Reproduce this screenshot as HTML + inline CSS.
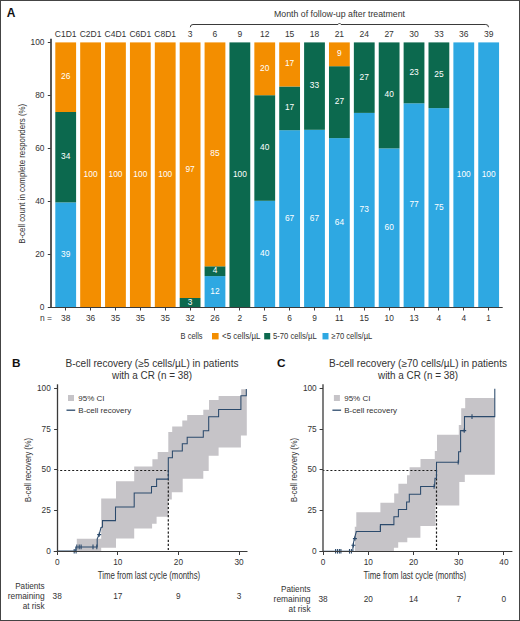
<!DOCTYPE html>
<html><head><meta charset="utf-8"><style>html,body{margin:0;padding:0;background:#fff;width:520px;height:621px;overflow:hidden}</style></head>
<body><svg width="520" height="621" viewBox="0 0 520 621" style="display:block;font-family:'Liberation Sans', sans-serif"><rect x="0" y="0" width="520" height="621" fill="#fff"/><rect x="55.30" y="202.40" width="20.8" height="104.90" fill="#2EA8E2"/><rect x="55.30" y="112.00" width="20.8" height="90.40" fill="#0C694E"/><rect x="55.30" y="42.40" width="20.8" height="69.60" fill="#F38E00"/><text transform="translate(65.70 256.85) scale(0.95 1)" x="0" y="0" font-size="8.8" text-anchor="middle" fill="#fff" font-weight="normal" >39</text><text transform="translate(65.70 159.20) scale(0.95 1)" x="0" y="0" font-size="8.8" text-anchor="middle" fill="#fff" font-weight="normal" >34</text><text transform="translate(65.70 79.20) scale(0.95 1)" x="0" y="0" font-size="8.8" text-anchor="middle" fill="#fff" font-weight="normal" >26</text><text x="65.70" y="37.4" font-size="8.5" text-anchor="middle" fill="#333333" font-weight="normal" >C1D1</text><text transform="translate(65.70 321.2) scale(0.9 1)" x="0" y="0" font-size="9.3" text-anchor="middle" fill="#333333" font-weight="normal" >38</text><line x1="65.5" y1="307.5" x2="65.5" y2="310.5" stroke="#3a3a3a" stroke-width="1"/><rect x="80.18" y="42.40" width="20.8" height="264.90" fill="#F38E00"/><text transform="translate(90.58 176.85) scale(0.95 1)" x="0" y="0" font-size="8.8" text-anchor="middle" fill="#fff" font-weight="normal" >100</text><text x="90.58" y="37.4" font-size="8.5" text-anchor="middle" fill="#333333" font-weight="normal" >C2D1</text><text transform="translate(90.58 321.2) scale(0.9 1)" x="0" y="0" font-size="9.3" text-anchor="middle" fill="#333333" font-weight="normal" >36</text><line x1="90.5" y1="307.5" x2="90.5" y2="310.5" stroke="#3a3a3a" stroke-width="1"/><rect x="105.06" y="42.40" width="20.8" height="264.90" fill="#F38E00"/><text transform="translate(115.46 176.85) scale(0.95 1)" x="0" y="0" font-size="8.8" text-anchor="middle" fill="#fff" font-weight="normal" >100</text><text x="115.46" y="37.4" font-size="8.5" text-anchor="middle" fill="#333333" font-weight="normal" >C4D1</text><text transform="translate(115.46 321.2) scale(0.9 1)" x="0" y="0" font-size="9.3" text-anchor="middle" fill="#333333" font-weight="normal" >35</text><line x1="115.5" y1="307.5" x2="115.5" y2="310.5" stroke="#3a3a3a" stroke-width="1"/><rect x="129.94" y="42.40" width="20.8" height="264.90" fill="#F38E00"/><text transform="translate(140.34 176.85) scale(0.95 1)" x="0" y="0" font-size="8.8" text-anchor="middle" fill="#fff" font-weight="normal" >100</text><text x="140.34" y="37.4" font-size="8.5" text-anchor="middle" fill="#333333" font-weight="normal" >C6D1</text><text transform="translate(140.34 321.2) scale(0.9 1)" x="0" y="0" font-size="9.3" text-anchor="middle" fill="#333333" font-weight="normal" >35</text><line x1="140.5" y1="307.5" x2="140.5" y2="310.5" stroke="#3a3a3a" stroke-width="1"/><rect x="154.82" y="42.40" width="20.8" height="264.90" fill="#F38E00"/><text transform="translate(165.22 176.85) scale(0.95 1)" x="0" y="0" font-size="8.8" text-anchor="middle" fill="#fff" font-weight="normal" >100</text><text x="165.22" y="37.4" font-size="8.5" text-anchor="middle" fill="#333333" font-weight="normal" >C8D1</text><text transform="translate(165.22 321.2) scale(0.9 1)" x="0" y="0" font-size="9.3" text-anchor="middle" fill="#333333" font-weight="normal" >35</text><line x1="165.5" y1="307.5" x2="165.5" y2="310.5" stroke="#3a3a3a" stroke-width="1"/><rect x="179.70" y="298.00" width="20.8" height="9.30" fill="#0C694E"/><rect x="179.70" y="42.40" width="20.8" height="255.60" fill="#F38E00"/><text transform="translate(190.10 304.65) scale(0.95 1)" x="0" y="0" font-size="8.8" text-anchor="middle" fill="#fff" font-weight="normal" >3</text><text transform="translate(190.10 172.20) scale(0.95 1)" x="0" y="0" font-size="8.8" text-anchor="middle" fill="#fff" font-weight="normal" >97</text><text x="190.10" y="37.4" font-size="8.5" text-anchor="middle" fill="#333333" font-weight="normal" >3</text><text transform="translate(190.10 321.2) scale(0.9 1)" x="0" y="0" font-size="9.3" text-anchor="middle" fill="#333333" font-weight="normal" >32</text><line x1="190.5" y1="307.5" x2="190.5" y2="310.5" stroke="#3a3a3a" stroke-width="1"/><rect x="204.58" y="276.10" width="20.8" height="31.20" fill="#2EA8E2"/><rect x="204.58" y="266.30" width="20.8" height="9.80" fill="#0C694E"/><rect x="204.58" y="42.40" width="20.8" height="223.90" fill="#F38E00"/><text transform="translate(214.98 293.70) scale(0.95 1)" x="0" y="0" font-size="8.8" text-anchor="middle" fill="#fff" font-weight="normal" >12</text><text transform="translate(214.98 273.20) scale(0.95 1)" x="0" y="0" font-size="8.8" text-anchor="middle" fill="#fff" font-weight="normal" >4</text><text transform="translate(214.98 156.35) scale(0.95 1)" x="0" y="0" font-size="8.8" text-anchor="middle" fill="#fff" font-weight="normal" >85</text><text x="214.98" y="37.4" font-size="8.5" text-anchor="middle" fill="#333333" font-weight="normal" >6</text><text transform="translate(214.98 321.2) scale(0.9 1)" x="0" y="0" font-size="9.3" text-anchor="middle" fill="#333333" font-weight="normal" >26</text><line x1="214.5" y1="307.5" x2="214.5" y2="310.5" stroke="#3a3a3a" stroke-width="1"/><rect x="229.46" y="42.40" width="20.8" height="264.90" fill="#0C694E"/><text transform="translate(239.86 176.85) scale(0.95 1)" x="0" y="0" font-size="8.8" text-anchor="middle" fill="#fff" font-weight="normal" >100</text><text x="239.86" y="37.4" font-size="8.5" text-anchor="middle" fill="#333333" font-weight="normal" >9</text><text transform="translate(239.86 321.2) scale(0.9 1)" x="0" y="0" font-size="9.3" text-anchor="middle" fill="#333333" font-weight="normal" >2</text><line x1="239.5" y1="307.5" x2="239.5" y2="310.5" stroke="#3a3a3a" stroke-width="1"/><rect x="254.34" y="200.80" width="20.8" height="106.50" fill="#2EA8E2"/><rect x="254.34" y="95.20" width="20.8" height="105.60" fill="#0C694E"/><rect x="254.34" y="42.40" width="20.8" height="52.80" fill="#F38E00"/><text transform="translate(264.74 256.05) scale(0.95 1)" x="0" y="0" font-size="8.8" text-anchor="middle" fill="#fff" font-weight="normal" >40</text><text transform="translate(264.74 150.00) scale(0.95 1)" x="0" y="0" font-size="8.8" text-anchor="middle" fill="#fff" font-weight="normal" >40</text><text transform="translate(264.74 70.80) scale(0.95 1)" x="0" y="0" font-size="8.8" text-anchor="middle" fill="#fff" font-weight="normal" >20</text><text x="264.74" y="37.4" font-size="8.5" text-anchor="middle" fill="#333333" font-weight="normal" >12</text><text transform="translate(264.74 321.2) scale(0.9 1)" x="0" y="0" font-size="9.3" text-anchor="middle" fill="#333333" font-weight="normal" >5</text><line x1="264.5" y1="307.5" x2="264.5" y2="310.5" stroke="#3a3a3a" stroke-width="1"/><rect x="279.22" y="130.20" width="20.8" height="177.10" fill="#2EA8E2"/><rect x="279.22" y="86.50" width="20.8" height="43.70" fill="#0C694E"/><rect x="279.22" y="42.40" width="20.8" height="44.10" fill="#F38E00"/><text transform="translate(289.62 220.75) scale(0.95 1)" x="0" y="0" font-size="8.8" text-anchor="middle" fill="#fff" font-weight="normal" >67</text><text transform="translate(289.62 110.35) scale(0.95 1)" x="0" y="0" font-size="8.8" text-anchor="middle" fill="#fff" font-weight="normal" >17</text><text transform="translate(289.62 66.45) scale(0.95 1)" x="0" y="0" font-size="8.8" text-anchor="middle" fill="#fff" font-weight="normal" >17</text><text x="289.62" y="37.4" font-size="8.5" text-anchor="middle" fill="#333333" font-weight="normal" >15</text><text transform="translate(289.62 321.2) scale(0.9 1)" x="0" y="0" font-size="9.3" text-anchor="middle" fill="#333333" font-weight="normal" >6</text><line x1="289.5" y1="307.5" x2="289.5" y2="310.5" stroke="#3a3a3a" stroke-width="1"/><rect x="304.10" y="129.80" width="20.8" height="177.50" fill="#2EA8E2"/><rect x="304.10" y="42.40" width="20.8" height="87.40" fill="#0C694E"/><text transform="translate(314.50 220.55) scale(0.95 1)" x="0" y="0" font-size="8.8" text-anchor="middle" fill="#fff" font-weight="normal" >67</text><text transform="translate(314.50 88.10) scale(0.95 1)" x="0" y="0" font-size="8.8" text-anchor="middle" fill="#fff" font-weight="normal" >33</text><text x="314.50" y="37.4" font-size="8.5" text-anchor="middle" fill="#333333" font-weight="normal" >18</text><text transform="translate(314.50 321.2) scale(0.9 1)" x="0" y="0" font-size="9.3" text-anchor="middle" fill="#333333" font-weight="normal" >9</text><line x1="314.5" y1="307.5" x2="314.5" y2="310.5" stroke="#3a3a3a" stroke-width="1"/><rect x="328.98" y="138.10" width="20.8" height="169.20" fill="#2EA8E2"/><rect x="328.98" y="66.20" width="20.8" height="71.90" fill="#0C694E"/><rect x="328.98" y="42.40" width="20.8" height="23.80" fill="#F38E00"/><text transform="translate(339.38 224.70) scale(0.95 1)" x="0" y="0" font-size="8.8" text-anchor="middle" fill="#fff" font-weight="normal" >64</text><text transform="translate(339.38 104.15) scale(0.95 1)" x="0" y="0" font-size="8.8" text-anchor="middle" fill="#fff" font-weight="normal" >27</text><text transform="translate(339.38 56.30) scale(0.95 1)" x="0" y="0" font-size="8.8" text-anchor="middle" fill="#fff" font-weight="normal" >9</text><text x="339.38" y="37.4" font-size="8.5" text-anchor="middle" fill="#333333" font-weight="normal" >21</text><text transform="translate(339.38 321.2) scale(0.9 1)" x="0" y="0" font-size="9.3" text-anchor="middle" fill="#333333" font-weight="normal" >11</text><line x1="339.5" y1="307.5" x2="339.5" y2="310.5" stroke="#3a3a3a" stroke-width="1"/><rect x="353.86" y="112.90" width="20.8" height="194.40" fill="#2EA8E2"/><rect x="353.86" y="42.40" width="20.8" height="70.50" fill="#0C694E"/><text transform="translate(364.26 212.10) scale(0.95 1)" x="0" y="0" font-size="8.8" text-anchor="middle" fill="#fff" font-weight="normal" >73</text><text transform="translate(364.26 79.65) scale(0.95 1)" x="0" y="0" font-size="8.8" text-anchor="middle" fill="#fff" font-weight="normal" >27</text><text x="364.26" y="37.4" font-size="8.5" text-anchor="middle" fill="#333333" font-weight="normal" >24</text><text transform="translate(364.26 321.2) scale(0.9 1)" x="0" y="0" font-size="9.3" text-anchor="middle" fill="#333333" font-weight="normal" >15</text><line x1="364.5" y1="307.5" x2="364.5" y2="310.5" stroke="#3a3a3a" stroke-width="1"/><rect x="378.74" y="148.40" width="20.8" height="158.90" fill="#2EA8E2"/><rect x="378.74" y="42.40" width="20.8" height="106.00" fill="#0C694E"/><text transform="translate(389.14 229.85) scale(0.95 1)" x="0" y="0" font-size="8.8" text-anchor="middle" fill="#fff" font-weight="normal" >60</text><text transform="translate(389.14 97.40) scale(0.95 1)" x="0" y="0" font-size="8.8" text-anchor="middle" fill="#fff" font-weight="normal" >40</text><text x="389.14" y="37.4" font-size="8.5" text-anchor="middle" fill="#333333" font-weight="normal" >27</text><text transform="translate(389.14 321.2) scale(0.9 1)" x="0" y="0" font-size="9.3" text-anchor="middle" fill="#333333" font-weight="normal" >10</text><line x1="389.5" y1="307.5" x2="389.5" y2="310.5" stroke="#3a3a3a" stroke-width="1"/><rect x="403.62" y="103.30" width="20.8" height="204.00" fill="#2EA8E2"/><rect x="403.62" y="42.40" width="20.8" height="60.90" fill="#0C694E"/><text transform="translate(414.02 207.30) scale(0.95 1)" x="0" y="0" font-size="8.8" text-anchor="middle" fill="#fff" font-weight="normal" >77</text><text transform="translate(414.02 74.85) scale(0.95 1)" x="0" y="0" font-size="8.8" text-anchor="middle" fill="#fff" font-weight="normal" >23</text><text x="414.02" y="37.4" font-size="8.5" text-anchor="middle" fill="#333333" font-weight="normal" >30</text><text transform="translate(414.02 321.2) scale(0.9 1)" x="0" y="0" font-size="9.3" text-anchor="middle" fill="#333333" font-weight="normal" >13</text><line x1="414.5" y1="307.5" x2="414.5" y2="310.5" stroke="#3a3a3a" stroke-width="1"/><rect x="428.50" y="108.10" width="20.8" height="199.20" fill="#2EA8E2"/><rect x="428.50" y="42.40" width="20.8" height="65.70" fill="#0C694E"/><text transform="translate(438.90 209.70) scale(0.95 1)" x="0" y="0" font-size="8.8" text-anchor="middle" fill="#fff" font-weight="normal" >75</text><text transform="translate(438.90 77.25) scale(0.95 1)" x="0" y="0" font-size="8.8" text-anchor="middle" fill="#fff" font-weight="normal" >25</text><text x="438.90" y="37.4" font-size="8.5" text-anchor="middle" fill="#333333" font-weight="normal" >33</text><text transform="translate(438.90 321.2) scale(0.9 1)" x="0" y="0" font-size="9.3" text-anchor="middle" fill="#333333" font-weight="normal" >4</text><line x1="438.5" y1="307.5" x2="438.5" y2="310.5" stroke="#3a3a3a" stroke-width="1"/><rect x="453.38" y="42.40" width="20.8" height="264.90" fill="#2EA8E2"/><text transform="translate(463.78 176.85) scale(0.95 1)" x="0" y="0" font-size="8.8" text-anchor="middle" fill="#fff" font-weight="normal" >100</text><text x="463.78" y="37.4" font-size="8.5" text-anchor="middle" fill="#333333" font-weight="normal" >36</text><text transform="translate(463.78 321.2) scale(0.9 1)" x="0" y="0" font-size="9.3" text-anchor="middle" fill="#333333" font-weight="normal" >4</text><line x1="463.5" y1="307.5" x2="463.5" y2="310.5" stroke="#3a3a3a" stroke-width="1"/><rect x="478.26" y="42.40" width="20.8" height="264.90" fill="#2EA8E2"/><text transform="translate(488.66 176.85) scale(0.95 1)" x="0" y="0" font-size="8.8" text-anchor="middle" fill="#fff" font-weight="normal" >100</text><text x="488.66" y="37.4" font-size="8.5" text-anchor="middle" fill="#333333" font-weight="normal" >39</text><text transform="translate(488.66 321.2) scale(0.9 1)" x="0" y="0" font-size="9.3" text-anchor="middle" fill="#333333" font-weight="normal" >1</text><line x1="488.5" y1="307.5" x2="488.5" y2="310.5" stroke="#3a3a3a" stroke-width="1"/><line x1="51" y1="38.8" x2="51" y2="308" stroke="#3a3a3a" stroke-width="1.7"/><line x1="48" y1="307.5" x2="502.7" y2="307.5" stroke="#3a3a3a" stroke-width="1.2"/><line x1="47.8" y1="307.5" x2="50.8" y2="307.5" stroke="#3a3a3a" stroke-width="1"/><text transform="translate(44.5 309.70) scale(0.92 1)" x="0" y="0" font-size="9.1" text-anchor="end" fill="#333333" font-weight="normal" >0</text><line x1="47.8" y1="254.5" x2="50.8" y2="254.5" stroke="#3a3a3a" stroke-width="1"/><text transform="translate(44.5 256.72) scale(0.92 1)" x="0" y="0" font-size="9.1" text-anchor="end" fill="#333333" font-weight="normal" >20</text><line x1="47.8" y1="201.5" x2="50.8" y2="201.5" stroke="#3a3a3a" stroke-width="1"/><text transform="translate(44.5 203.74) scale(0.92 1)" x="0" y="0" font-size="9.1" text-anchor="end" fill="#333333" font-weight="normal" >40</text><line x1="47.8" y1="148.5" x2="50.8" y2="148.5" stroke="#3a3a3a" stroke-width="1"/><text transform="translate(44.5 150.76) scale(0.92 1)" x="0" y="0" font-size="9.1" text-anchor="end" fill="#333333" font-weight="normal" >60</text><line x1="47.8" y1="95.5" x2="50.8" y2="95.5" stroke="#3a3a3a" stroke-width="1"/><text transform="translate(44.5 97.78) scale(0.92 1)" x="0" y="0" font-size="9.1" text-anchor="end" fill="#333333" font-weight="normal" >80</text><line x1="47.8" y1="42.5" x2="50.8" y2="42.5" stroke="#3a3a3a" stroke-width="1"/><text transform="translate(44.5 44.80) scale(0.92 1)" x="0" y="0" font-size="9.1" text-anchor="end" fill="#333333" font-weight="normal" >100</text><text x="52" y="321.3" font-size="8.5" text-anchor="end" fill="#333333" font-weight="normal" >n =</text><text x="0" y="0" font-size="9.4" text-anchor="middle" fill="#333333" transform="translate(25.3 173.8) rotate(-90)" textLength="140" lengthAdjust="spacingAndGlyphs">B-cell count in complete responders (%)</text><text x="6.8" y="16.9" font-size="12" text-anchor="start" fill="#111" font-weight="bold" >A</text><path d="M190.3 27.2 Q190.3 24.5 193 24.5 L338 24.5 L339.5 23 L341 24.5 L485.8 24.5 Q488.5 24.5 488.5 27.2" fill="none" stroke="#3a3a3a" stroke-width="1"/><text x="339.5" y="17.3" font-size="8.5" text-anchor="middle" fill="#333333" font-weight="normal" textLength="131" lengthAdjust="spacingAndGlyphs" >Month of follow-up after treatment</text><text x="180.6" y="339" font-size="8.8" text-anchor="start" fill="#333333" font-weight="normal" textLength="22" lengthAdjust="spacingAndGlyphs" >B cells</text><rect x="212" y="333" width="6.6" height="6.4" fill="#F38E00"/><text x="222" y="339" font-size="8.8" text-anchor="start" fill="#333333" font-weight="normal" textLength="38.4" lengthAdjust="spacingAndGlyphs" >&lt;5 cells/µL</text><rect x="264.2" y="333" width="6" height="6.4" fill="#0C694E"/><text x="273" y="339" font-size="8.8" text-anchor="start" fill="#333333" font-weight="normal" textLength="43.7" lengthAdjust="spacingAndGlyphs" >5-70 cells/µL</text><rect x="322.5" y="333" width="6" height="6.4" fill="#2EA8E2"/><text x="331.5" y="339" font-size="8.8" text-anchor="start" fill="#333333" font-weight="normal" textLength="40.8" lengthAdjust="spacingAndGlyphs" >≥70 cells/µL</text><polygon points="76.80,538.80 101.20,538.80 101.20,498.60 116.00,498.60 116.00,481.20 134.20,481.20 134.20,466.50 152.40,466.50 152.40,459.20 157.70,459.20 157.70,452.00 168.30,452.00 168.30,432.00 172.20,432.00 172.20,426.40 182.30,426.40 182.30,420.60 187.20,420.60 187.20,415.00 203.30,415.00 203.30,409.80 209.00,409.80 209.00,400.10 218.60,400.10 218.60,396.10 241.20,396.10 241.20,389.30 246.80,389.30 246.80,435.60 240.90,435.60 240.90,447.60 218.60,447.60 218.60,455.70 208.70,455.70 208.70,471.00 203.30,471.00 203.30,478.70 182.70,478.70 182.70,492.20 171.80,492.20 171.80,499.40 168.30,499.40 168.30,516.80 156.60,516.80 156.60,523.80 152.10,523.80 152.10,528.60 134.20,528.60 134.20,538.40 116.00,538.40 116.00,547.70 101.20,547.70 101.20,551.10 76.80,551.10" fill="#C6C4C8"/><line x1="57.2" y1="470.5" x2="168.3" y2="470.5" stroke="#1a1a1a" stroke-width="1.1" stroke-dasharray="2 2" stroke-dashoffset="1.0"/><line x1="168.3" y1="469.98" x2="168.3" y2="551.1" stroke="#1a1a1a" stroke-width="1.2" stroke-dasharray="2.2 1.9"/><path d="M57.20 551.10 L75.80 551.10 L75.80 546.90 L97.20 546.90 L97.20 538.80 L99.20 534.60 L101.00 527.50 L102.50 527.00 L102.50 520.60 L115.50 520.60 L115.50 507.00 L134.20 507.00 L134.20 492.90 L151.50 492.90 L151.50 486.40 L156.60 486.40 L156.60 479.10 L168.30 479.10 L168.30 457.80 L172.40 457.80 L172.40 451.00 L182.30 451.00 L182.30 443.80 L187.20 443.80 L187.20 437.30 L203.30 437.30 L203.30 430.70 L208.70 430.70 L208.70 416.70 L218.60 416.70 L218.60 409.50 L240.90 409.50 L240.90 395.80 L246.30 395.80 L246.30 388.90" fill="none" stroke="#2B4A6C" stroke-width="1.05" stroke-linejoin="miter"/><line x1="74.2" y1="549.0" x2="74.2" y2="553.5999999999999" stroke="#2B4A6C" stroke-width="1.1"/><line x1="76.1" y1="549.0" x2="76.1" y2="553.5999999999999" stroke="#2B4A6C" stroke-width="1.1"/><line x1="76.8" y1="544.6" x2="76.8" y2="549.1999999999999" stroke="#2B4A6C" stroke-width="1.1"/><line x1="79.2" y1="544.6" x2="79.2" y2="549.1999999999999" stroke="#2B4A6C" stroke-width="1.1"/><line x1="81.1" y1="544.6" x2="81.1" y2="549.1999999999999" stroke="#2B4A6C" stroke-width="1.1"/><line x1="93" y1="544.6" x2="93" y2="549.1999999999999" stroke="#2B4A6C" stroke-width="1.1"/><line x1="96.8" y1="544.6" x2="96.8" y2="549.1999999999999" stroke="#2B4A6C" stroke-width="1.1"/><path d="M97.2 534.6 H101.2 M99.2 532.4 V536.8000000000001" stroke="#2B4A6C" stroke-width="1.1" fill="none"/><line x1="57.5" y1="384.3" x2="57.5" y2="551.7" stroke="#3a3a3a" stroke-width="1.3"/><line x1="53.7" y1="551.5" x2="247.50" y2="551.5" stroke="#3a3a3a" stroke-width="1.2"/><line x1="54.10" y1="551.5" x2="57.5" y2="551.5" stroke="#3a3a3a" stroke-width="1"/><text transform="translate(50.80 553.60) scale(0.9 1)" x="0" y="0" font-size="9.2" text-anchor="end" fill="#333333" font-weight="normal" >0</text><line x1="54.10" y1="510.5" x2="57.5" y2="510.5" stroke="#3a3a3a" stroke-width="1"/><text transform="translate(50.80 513.04) scale(0.9 1)" x="0" y="0" font-size="9.2" text-anchor="end" fill="#333333" font-weight="normal" >25</text><line x1="54.10" y1="469.5" x2="57.5" y2="469.5" stroke="#3a3a3a" stroke-width="1"/><text transform="translate(50.80 472.48) scale(0.9 1)" x="0" y="0" font-size="9.2" text-anchor="end" fill="#333333" font-weight="normal" >50</text><line x1="54.10" y1="429.5" x2="57.5" y2="429.5" stroke="#3a3a3a" stroke-width="1"/><text transform="translate(50.80 431.91) scale(0.9 1)" x="0" y="0" font-size="9.2" text-anchor="end" fill="#333333" font-weight="normal" >75</text><line x1="54.10" y1="388.5" x2="57.5" y2="388.5" stroke="#3a3a3a" stroke-width="1"/><text transform="translate(50.80 391.35) scale(0.9 1)" x="0" y="0" font-size="9.2" text-anchor="end" fill="#333333" font-weight="normal" >100</text><line x1="57.5" y1="551.5" x2="57.5" y2="555" stroke="#3a3a3a" stroke-width="1"/><text transform="translate(57.20 565.3) scale(0.9 1)" x="0" y="0" font-size="9.2" text-anchor="middle" fill="#333333" font-weight="normal" >0</text><line x1="117.5" y1="551.5" x2="117.5" y2="555" stroke="#3a3a3a" stroke-width="1"/><text transform="translate(117.80 565.3) scale(0.9 1)" x="0" y="0" font-size="9.2" text-anchor="middle" fill="#333333" font-weight="normal" >10</text><line x1="178.5" y1="551.5" x2="178.5" y2="555" stroke="#3a3a3a" stroke-width="1"/><text transform="translate(178.40 565.3) scale(0.9 1)" x="0" y="0" font-size="9.2" text-anchor="middle" fill="#333333" font-weight="normal" >20</text><line x1="239.5" y1="551.5" x2="239.5" y2="555" stroke="#3a3a3a" stroke-width="1"/><text transform="translate(239.00 565.3) scale(0.9 1)" x="0" y="0" font-size="9.2" text-anchor="middle" fill="#333333" font-weight="normal" >30</text><text x="152" y="366.7" font-size="10" text-anchor="middle" fill="#333333" font-weight="normal" textLength="173" lengthAdjust="spacingAndGlyphs" >B-cell recovery (≥5 cells/µL) in patients</text><text x="152" y="378.7" font-size="10" text-anchor="middle" fill="#333333" font-weight="normal" textLength="80" lengthAdjust="spacingAndGlyphs" >with a CR (n = 38)</text><text x="12" y="367.2" font-size="11.8" text-anchor="start" fill="#111" font-weight="bold" >B</text><rect x="68.0" y="395" width="6" height="6" fill="#C6C4C8"/><text x="78.3" y="401" font-size="8" text-anchor="start" fill="#333333" font-weight="normal" >95% CI</text><line x1="66.5" y1="410.2" x2="75.2" y2="410.2" stroke="#2B4A6C" stroke-width="1.3"/><text x="78.3" y="413" font-size="8" text-anchor="start" fill="#333333" font-weight="normal" >B-cell recovery</text><text x="0" y="0" font-size="9.6" text-anchor="middle" fill="#333333" transform="translate(31.00 469.9) rotate(-90)" textLength="64" lengthAdjust="spacingAndGlyphs">B-cell recovery (%)</text><text x="97.7" y="579" font-size="10" text-anchor="start" fill="#333333" font-weight="normal" textLength="102.5" lengthAdjust="spacingAndGlyphs" >Time from last cycle (months)</text><text x="44.60" y="589.2" font-size="8.8" text-anchor="end" fill="#333333" font-weight="normal" textLength="29.4" lengthAdjust="spacingAndGlyphs" >Patients</text><text x="44.60" y="599.2" font-size="8.8" text-anchor="end" fill="#333333" font-weight="normal" textLength="36.9" lengthAdjust="spacingAndGlyphs" >remaining</text><text x="44.60" y="609.2" font-size="8.8" text-anchor="end" fill="#333333" font-weight="normal" textLength="21.9" lengthAdjust="spacingAndGlyphs" >at risk</text><text transform="translate(57.20 599.4) scale(0.9 1)" x="0" y="0" font-size="9.2" text-anchor="middle" fill="#333333" font-weight="normal" >38</text><text transform="translate(117.80 599.4) scale(0.9 1)" x="0" y="0" font-size="9.2" text-anchor="middle" fill="#333333" font-weight="normal" >17</text><text transform="translate(178.40 599.4) scale(0.9 1)" x="0" y="0" font-size="9.2" text-anchor="middle" fill="#333333" font-weight="normal" >9</text><text transform="translate(239.00 599.4) scale(0.9 1)" x="0" y="0" font-size="9.2" text-anchor="middle" fill="#333333" font-weight="normal" >3</text><polygon points="354.80,526.70 356.30,526.70 356.30,512.30 380.40,512.30 380.40,502.80 394.20,502.80 394.20,493.60 398.40,493.60 398.40,483.70 407.00,483.70 407.00,475.30 409.60,475.30 409.60,467.20 420.50,467.20 420.50,458.90 434.80,458.90 434.80,450.90 437.00,450.90 437.00,434.80 458.80,434.80 458.80,425.10 461.20,425.10 461.20,408.20 465.20,408.20 465.20,398.10 494.80,398.10 494.80,474.70 464.80,474.70 464.80,482.00 459.30,482.00 459.30,505.60 435.50,505.60 435.50,526.00 420.40,526.00 420.40,537.70 407.30,537.70 407.30,542.30 398.20,542.30 398.20,547.70 393.90,547.70 393.90,551.20 354.80,551.20" fill="#C6C4C8"/><line x1="323.1" y1="470.5" x2="436.5" y2="470.5" stroke="#1a1a1a" stroke-width="1.1" stroke-dasharray="2 2" stroke-dashoffset="0.7"/><line x1="436.5" y1="469.98" x2="436.5" y2="551.1" stroke="#1a1a1a" stroke-width="1.2" stroke-dasharray="2.2 1.9"/><path d="M323.10 551.20 L352.90 551.20 L352.90 545.50 L354.30 539.00 L356.25 532.00 L356.25 531.50 L380.40 531.50 L380.40 524.60 L393.90 524.60 L393.90 516.70 L398.40 516.70 L398.40 509.50 L406.60 509.50 L406.60 502.00 L409.30 502.00 L409.30 494.30 L420.60 494.30 L420.60 486.50 L434.60 486.50 L435.00 478.30 L436.50 478.30 L436.50 462.20 L458.60 462.20 L458.60 451.70 L460.60 451.70 L460.60 430.60 L464.50 430.60 L464.50 416.60 L494.80 416.60 L494.80 388.80" fill="none" stroke="#2B4A6C" stroke-width="1.05" stroke-linejoin="miter"/><line x1="335.6" y1="549.0" x2="335.6" y2="553.5999999999999" stroke="#2B4A6C" stroke-width="1.1"/><line x1="337.5" y1="549.0" x2="337.5" y2="553.5999999999999" stroke="#2B4A6C" stroke-width="1.1"/><line x1="339.4" y1="549.0" x2="339.4" y2="553.5999999999999" stroke="#2B4A6C" stroke-width="1.1"/><line x1="340.9" y1="549.0" x2="340.9" y2="553.5999999999999" stroke="#2B4A6C" stroke-width="1.1"/><line x1="349.5" y1="549.0" x2="349.5" y2="553.5999999999999" stroke="#2B4A6C" stroke-width="1.1"/><line x1="351.4" y1="549.0" x2="351.4" y2="553.5999999999999" stroke="#2B4A6C" stroke-width="1.1"/><line x1="380.4" y1="525.7" x2="380.4" y2="530.3" stroke="#2B4A6C" stroke-width="1.1"/><line x1="434.1" y1="484.2" x2="434.1" y2="488.8" stroke="#2B4A6C" stroke-width="1.1"/><line x1="458.2" y1="459.9" x2="458.2" y2="464.5" stroke="#2B4A6C" stroke-width="1.1"/><line x1="472" y1="414.3" x2="472" y2="418.90000000000003" stroke="#2B4A6C" stroke-width="1.1"/><path d="M351.4 545.3 H355.4 M353.4 543.0999999999999 V547.5" stroke="#2B4A6C" stroke-width="1.1" fill="none"/><path d="M352.9 538.6 H356.9 M354.9 536.4 V540.8000000000001" stroke="#2B4A6C" stroke-width="1.1" fill="none"/><path d="M462.2 430.6 H466.2 M464.2 428.40000000000003 V432.8" stroke="#2B4A6C" stroke-width="1.1" fill="none"/><line x1="323.0" y1="384.3" x2="323.0" y2="551.7" stroke="#3a3a3a" stroke-width="1.3"/><line x1="319.6" y1="551.5" x2="512.40" y2="551.5" stroke="#3a3a3a" stroke-width="1.2"/><line x1="319.60" y1="551.5" x2="323.0" y2="551.5" stroke="#3a3a3a" stroke-width="1"/><text transform="translate(316.70 553.60) scale(0.9 1)" x="0" y="0" font-size="9.2" text-anchor="end" fill="#333333" font-weight="normal" >0</text><line x1="319.60" y1="510.5" x2="323.0" y2="510.5" stroke="#3a3a3a" stroke-width="1"/><text transform="translate(316.70 513.04) scale(0.9 1)" x="0" y="0" font-size="9.2" text-anchor="end" fill="#333333" font-weight="normal" >25</text><line x1="319.60" y1="469.5" x2="323.0" y2="469.5" stroke="#3a3a3a" stroke-width="1"/><text transform="translate(316.70 472.48) scale(0.9 1)" x="0" y="0" font-size="9.2" text-anchor="end" fill="#333333" font-weight="normal" >50</text><line x1="319.60" y1="429.5" x2="323.0" y2="429.5" stroke="#3a3a3a" stroke-width="1"/><text transform="translate(316.70 431.91) scale(0.9 1)" x="0" y="0" font-size="9.2" text-anchor="end" fill="#333333" font-weight="normal" >75</text><line x1="319.60" y1="388.5" x2="323.0" y2="388.5" stroke="#3a3a3a" stroke-width="1"/><text transform="translate(316.70 391.35) scale(0.9 1)" x="0" y="0" font-size="9.2" text-anchor="end" fill="#333333" font-weight="normal" >100</text><line x1="323.5" y1="551.5" x2="323.5" y2="555" stroke="#3a3a3a" stroke-width="1"/><text transform="translate(323.10 565.3) scale(0.9 1)" x="0" y="0" font-size="9.2" text-anchor="middle" fill="#333333" font-weight="normal" >0</text><line x1="368.5" y1="551.5" x2="368.5" y2="555" stroke="#3a3a3a" stroke-width="1"/><text transform="translate(368.30 565.3) scale(0.9 1)" x="0" y="0" font-size="9.2" text-anchor="middle" fill="#333333" font-weight="normal" >10</text><line x1="413.5" y1="551.5" x2="413.5" y2="555" stroke="#3a3a3a" stroke-width="1"/><text transform="translate(413.50 565.3) scale(0.9 1)" x="0" y="0" font-size="9.2" text-anchor="middle" fill="#333333" font-weight="normal" >20</text><line x1="458.5" y1="551.5" x2="458.5" y2="555" stroke="#3a3a3a" stroke-width="1"/><text transform="translate(458.70 565.3) scale(0.9 1)" x="0" y="0" font-size="9.2" text-anchor="middle" fill="#333333" font-weight="normal" >30</text><line x1="503.5" y1="551.5" x2="503.5" y2="555" stroke="#3a3a3a" stroke-width="1"/><text transform="translate(503.90 565.3) scale(0.9 1)" x="0" y="0" font-size="9.2" text-anchor="middle" fill="#333333" font-weight="normal" >40</text><text x="418" y="366.7" font-size="10" text-anchor="middle" fill="#333333" font-weight="normal" textLength="178" lengthAdjust="spacingAndGlyphs" >B-cell recovery (≥70 cells/µL) in patients</text><text x="418" y="378.7" font-size="10" text-anchor="middle" fill="#333333" font-weight="normal" textLength="80" lengthAdjust="spacingAndGlyphs" >with a CR (n = 38)</text><text x="277" y="367.2" font-size="11.8" text-anchor="start" fill="#111" font-weight="bold" >C</text><rect x="333.9" y="395" width="6" height="6" fill="#C6C4C8"/><text x="344.2" y="401" font-size="8" text-anchor="start" fill="#333333" font-weight="normal" >95% CI</text><line x1="332.4" y1="410.2" x2="341.09999999999997" y2="410.2" stroke="#2B4A6C" stroke-width="1.3"/><text x="344.2" y="413" font-size="8" text-anchor="start" fill="#333333" font-weight="normal" >B-cell recovery</text><text x="0" y="0" font-size="9.6" text-anchor="middle" fill="#333333" transform="translate(296.90 469.9) rotate(-90)" textLength="64" lengthAdjust="spacingAndGlyphs">B-cell recovery (%)</text><text x="363.6" y="579" font-size="10" text-anchor="start" fill="#333333" font-weight="normal" textLength="102.5" lengthAdjust="spacingAndGlyphs" >Time from last cycle (months)</text><text x="310.50" y="591.8000000000001" font-size="8.8" text-anchor="end" fill="#333333" font-weight="normal" textLength="29.4" lengthAdjust="spacingAndGlyphs" >Patients</text><text x="310.50" y="601.8000000000001" font-size="8.8" text-anchor="end" fill="#333333" font-weight="normal" textLength="36.9" lengthAdjust="spacingAndGlyphs" >remaining</text><text x="310.50" y="611.8000000000001" font-size="8.8" text-anchor="end" fill="#333333" font-weight="normal" textLength="21.9" lengthAdjust="spacingAndGlyphs" >at risk</text><text transform="translate(323.10 602.0) scale(0.9 1)" x="0" y="0" font-size="9.2" text-anchor="middle" fill="#333333" font-weight="normal" >38</text><text transform="translate(368.30 602.0) scale(0.9 1)" x="0" y="0" font-size="9.2" text-anchor="middle" fill="#333333" font-weight="normal" >20</text><text transform="translate(413.50 602.0) scale(0.9 1)" x="0" y="0" font-size="9.2" text-anchor="middle" fill="#333333" font-weight="normal" >14</text><text transform="translate(458.70 602.0) scale(0.9 1)" x="0" y="0" font-size="9.2" text-anchor="middle" fill="#333333" font-weight="normal" >7</text><text transform="translate(503.90 602.0) scale(0.9 1)" x="0" y="0" font-size="9.2" text-anchor="middle" fill="#333333" font-weight="normal" >0</text><rect x="0.5" y="0.5" width="519" height="620" fill="none" stroke="#444" stroke-width="1"/></svg></body></html>
